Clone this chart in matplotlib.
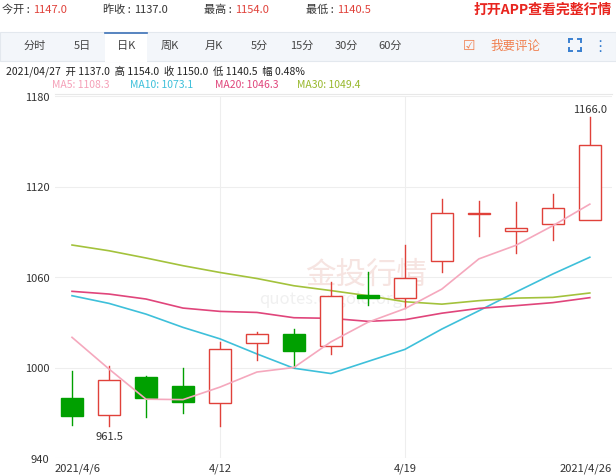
import matplotlib
matplotlib.use("Agg")
import matplotlib.pyplot as plt
from matplotlib.patches import Rectangle
import numpy as np

plt.rcParams['font.family'] = ['Noto Sans CJK SC', 'DejaVu Sans']

dates = ["4/6","4/7","4/8","4/9","4/12","4/13","4/14","4/15","4/16","4/19","4/20","4/21","4/22","4/23","4/26"]
opens  = [980, 968.7, 993.5, 988, 976.4, 1016.4, 1022, 1014.5, 1048, 1045.8, 1070.8, 1101.5, 1090.3, 1095.4, 1097.8]
closes = [968, 991.7, 980, 977, 1012.4, 1022, 1011, 1047.6, 1046, 1059.5, 1102.2, 1102.5, 1092.3, 1105.7, 1147.5]
highs  = [997.5, 1001, 994.6, 999.8, 1017, 1023.5, 1025.5, 1056.5, 1063.5, 1081, 1111.7, 1110.6, 1110, 1114.8, 1166]
lows   = [962, 961.5, 967.5, 970, 961, 1005, 1000.5, 1009, 1041.5, 1039.5, 1063, 1087.4, 1075.7, 1084.7, 1097.5]
ma5  = [1020, 999, 979, 978.7, 987, 997, 1000, 1017, 1030, 1039, 1052, 1072, 1081, 1094, 1108.3]
ma10 = [1047.6, 1042.5, 1035.4, 1026.6, 1019, 1009, 999.5, 996, 1004, 1012, 1025.5, 1037.6, 1050, 1062, 1073.1]
ma20 = [1050.5, 1048.7, 1045.4, 1039.4, 1037.2, 1036.5, 1033, 1032.6, 1030.6, 1031.7, 1036, 1039.2, 1041, 1043, 1046.3]
ma30 = [1081.2, 1077.4, 1072.6, 1067.5, 1063, 1059, 1054.2, 1051, 1047.6, 1043.6, 1042, 1044.3, 1046, 1046.5, 1049.4]
yticks = [940, 1000, 1060, 1120, 1180]
xtick_idx = [0, 4, 9, 14]
xtick_labels = ["2021/4/6", "4/12", "4/19", "2021/4/26"]

RED = '#e0413a'; GREEN = '#00a000'
fig = plt.figure(figsize=(6.16, 4.77), dpi=100)
ax = fig.add_axes([55/616, 1-459/477, 557/616, 362/477])
x = np.arange(len(dates))
for i in x:
    up = closes[i] >= opens[i]
    c = RED if up else GREEN
    lo, hi = min(opens[i], closes[i]), max(opens[i], closes[i])
    ax.plot([i, i], [lows[i], lo], color=c, lw=1, zorder=3)
    ax.plot([i, i], [hi, highs[i]], color=c, lw=1, zorder=3)
    h = max(hi - lo, 0.6)
    ax.add_patch(Rectangle((i-0.3, lo), 0.6, h, facecolor='white' if up else GREEN,
                           edgecolor=c, lw=1, zorder=4))
ax.plot(x, ma5, color='#f5a8bd', lw=1.2, zorder=5)
ax.plot(x, ma10, color='#3ec0da', lw=1.2, zorder=2)
ax.plot(x, ma20, color='#e0457b', lw=1.2, zorder=2)
ax.plot(x, ma30, color='#a3c23c', lw=1.2, zorder=2)
ax.text(1, 958, "961.5", ha='center', va='top', fontsize=8, color='#333')
ax.text(14, 1168, "1166.0", ha='center', va='bottom', fontsize=8, color='#333')
ax.text(6.3, 1062, "金投行情", fontsize=22, color='#f6e4e1', ha='left', va='center', zorder=1)
ax.text(7.0, 1046, "quotes.cngold.org", fontsize=12, color='#f0f0f0', ha='center', va='center', zorder=1)

ax.set_xlim(-0.46, 14.6); ax.set_ylim(940, 1180)
ax.set_yticks(yticks)
ax.set_yticklabels([str(v) for v in yticks], fontsize=8, color='#333')
ax.set_xticks([])
for v in yticks:
    ax.axhline(v, color='#eeeeee', lw=0.8, zorder=0)
for i in [4, 9]:
    ax.axvline(i, color='#eeeeee', lw=0.8, zorder=0)
for s in ax.spines.values():
    s.set_visible(False)
ax.tick_params(length=0, pad=4)
for i, l in zip(xtick_idx, xtick_labels):
    ha = 'center'
    xx = i
    if i == 0: xx, ha = -0.46, 'left'
    if i == 14: xx, ha = 14.6, 'right'
    ax.text(xx, 937, l, ha=ha, va='top', fontsize=8, color='#333')

# header
def ft(px, py, s, **kw):
    fig.text(px/616, 1-py/477, s, va='center', **kw)
fs = 8
ft(2, 10, "今开 : ", fontsize=fs, color='#333')
ft(33, 10, "1147.0", fontsize=fs, color=RED)
ft(103, 10, "昨收 : ", fontsize=fs, color='#333')
ft(134, 10, "1137.0", fontsize=fs, color='#333')
ft(204, 10, "最高 : ", fontsize=fs, color='#333')
ft(235, 10, "1154.0", fontsize=fs, color=RED)
ft(306, 10, "最低 : ", fontsize=fs, color='#333')
ft(337, 10, "1140.5", fontsize=fs, color=RED)
fig.text(612/616, 1-10/477, "打开APP查看完整行情", va='center', ha='right', fontsize=10, color='#e8251f', fontweight='bold')
fig.patches.append(Rectangle((0, 1-62/477), 1, 29/477, transform=fig.transFigure, facecolor='#f3f6fa', edgecolor='#e3e8ee', lw=0.8))
fig.patches.append(Rectangle((105/616, 1-63/477), 42/616, 30/477, transform=fig.transFigure, facecolor='white', edgecolor='none'))
fig.add_artist(plt.Line2D([105/616, 147/616], [1-34/477]*2, color='#3a6fb5', lw=1.2))
for px, s in [(35, "分时"), (82, "5日"), (126, "日K"), (170, "周K"), (214, "月K"), (259, "5分"), (302, "15分"), (346, "30分"), (390, "60分")]:
    ft(px, 46, s, fontsize=8, color='#444', ha='center')
ft(463, 46, "☑", fontsize=10, color='#f08050', ha='left', family=['DejaVu Sans'])
ft(490, 46, "我要评论", fontsize=9, color='#f08050', ha='left')
# fullscreen icon drawn as corner brackets
cx, cy, r, k = 575, 46, 6, 3
for sx in (-1, 1):
    for sy in (-1, 1):
        px0, py0 = cx + sx*r, cy + sy*r
        fig.add_artist(plt.Line2D([px0/616, (px0 - sx*k)/616], [1-py0/477]*2, color='#3a80d0', lw=1.4))
        fig.add_artist(plt.Line2D([px0/616]*2, [1-py0/477, 1-(py0 - sy*k)/477], color='#3a80d0', lw=1.4))
ft(600, 46, "⋮", fontsize=11, color='#3a80d0', ha='center', family=['DejaVu Sans'])
ft(6, 71, "2021/04/27  开 1137.0  高 1154.0  收 1150.0  低 1140.5  幅 0.48%", fontsize=7.5, color='#222')
ft(52, 85, "MA5: 1108.3", fontsize=7.5, color='#f5a0b8')
ft(130, 85, "MA10: 1073.1", fontsize=7.5, color='#3ec0da')
ft(215, 85, "MA20: 1046.3", fontsize=7.5, color='#e0457b')
ft(297, 85, "MA30: 1049.4", fontsize=7.5, color='#98b82c')
fig.add_artist(plt.Line2D([55/616, 612/616], [1-95/477]*2, color='#e8e8e8', lw=0.8))
fig.savefig("out.png", dpi=100, facecolor='white')
